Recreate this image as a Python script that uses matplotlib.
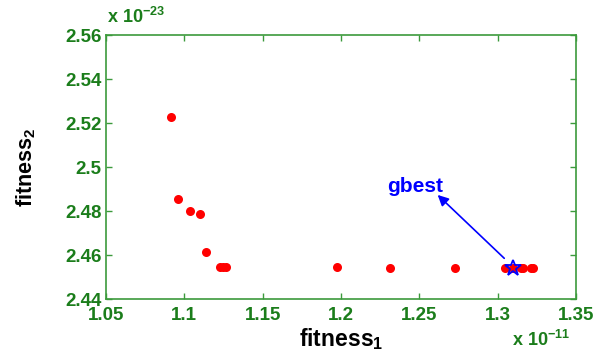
import matplotlib.pyplot as plt
import numpy as np

plt.rcParams['font.family'] = ['Liberation Sans', 'DejaVu Sans']
plt.rcParams['mathtext.fontset'] = 'custom'
plt.rcParams['mathtext.rm'] = 'Liberation Sans:bold'
plt.rcParams['mathtext.bf'] = 'Liberation Sans:bold'

# pareto front points (fitness1 in 1e-11, fitness2 in 1e-23)
fit1 = [1.0915, 1.0957, 1.1034, 1.1097, 1.1136, 1.1226, 1.1246, 1.1266,
        1.1972, 1.2313, 1.2725, 1.3049, 1.3095, 1.3149, 1.3164, 1.3213, 1.3227]
fit2 = [2.5229, 2.4853, 2.4800, 2.4788, 2.4615, 2.4545, 2.4545, 2.4545,
        2.4545, 2.4543, 2.4543, 2.4543, 2.4543, 2.4543, 2.4543, 2.4543, 2.4543]
gbest = (1.3095, 2.4543)
arrow_tail = (1.3042, 2.4585)
arrow_head = (1.2617, 2.4873)
label_pos = (1.2473, 2.4911)

xticks = [1.05, 1.1, 1.15, 1.2, 1.25, 1.3, 1.35]
xtick_labels = ['1.05', '1.1', '1.15', '1.2', '1.25', '1.3', '1.35']
yticks = [2.44, 2.46, 2.48, 2.5, 2.52, 2.54, 2.56]
ytick_labels = ['2.44', '2.46', '2.48', '2.5', '2.52', '2.54', '2.56']

spine_col = '#3c9a3c'
lab_col = '#1b7d1b'

fig = plt.figure(figsize=(6.09, 3.51), dpi=100)
ax = fig.add_axes([106/609, 1 - 299/351, 470/609, 264/351])

ax.plot(fit1, fit2, 'o', color='red', markersize=6.5, markeredgewidth=0)
ax.plot(*gbest, marker='*', markersize=12, markerfacecolor='none',
        markeredgecolor='blue', markeredgewidth=1.3, linestyle='none')

ax.annotate('', xy=arrow_head, xytext=arrow_tail,
            arrowprops=dict(arrowstyle='-|>', color='blue', lw=1.2,
                            mutation_scale=16, shrinkA=0, shrinkB=0))
ax.text(*label_pos, 'gbest', color='blue', fontsize=15, fontweight='bold',
        ha='center', va='center')

ax.set_xlim(1.05, 1.35)
ax.set_ylim(2.44, 2.56)
ax.set_xticks(xticks)
ax.set_xticklabels(xtick_labels)
ax.set_yticks(yticks)
ax.set_yticklabels(ytick_labels)
ax.tick_params(direction='in', top=True, right=True, length=4, width=1,
               color=spine_col, labelcolor=lab_col, labelsize=13.5)
ax.tick_params(axis='x', pad=6)
ax.tick_params(axis='y', pad=3)
for lbl in ax.get_xticklabels() + ax.get_yticklabels():
    lbl.set_fontweight('bold')
for s in ax.spines.values():
    s.set_color(spine_col)
    s.set_linewidth(1.2)

ax.set_xlabel('fitness$_\\mathbf{1}$', fontsize=16.5, fontweight='bold', labelpad=1)
ax.set_ylabel('fitness$_\\mathbf{2}$', fontsize=15.5, fontweight='bold', labelpad=20)

fig.text(107/609, 1 - 17/351, 'x 10$^{\\mathbf{-23}}$', color=lab_col,
         fontsize=13, fontweight='bold', va='center', ha='left')
fig.text(512/609, 1 - 340/351, 'x 10$^{\\mathbf{-11}}$', color=lab_col,
         fontsize=13, fontweight='bold', va='center', ha='left')

fig.savefig('out.png', dpi=100)
